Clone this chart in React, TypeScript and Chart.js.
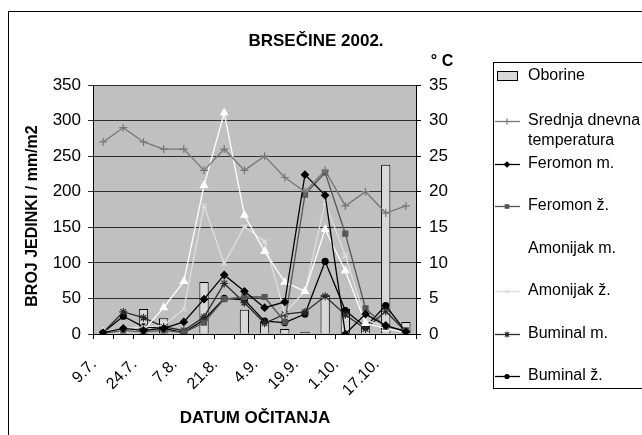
import React, { useEffect, useRef } from 'react';
import { Chart, registerables } from 'chart.js';
import { drawPoint } from 'chart.js/helpers';

Chart.register(...registerables);

const chartTitle = 'BRSEČINE 2002.';
const yTitle = 'BROJ JEDINKI / mm/m2';
const y1Title = '° C';
const xTitle = 'DATUM OČITANJA';

const categories = ['9.7.', '', '24.7.', '', '7.8.', '', '21.8.', '', '4.9.', '', '19.9.', '', '1.10.', '', '17.10.', ''];
const oborine = [0, 0, 35, 22, 0, 73, 0, 34, 18, 7, 3, 55, 35, 12, 238, 17];
const temperatura = [27, 29, 27, 26, 26, 23, 26, 23, 25, 22, 20, 23, 18, 20, 17, 18];
const feromonM = [2, 8, 5, 8, 17, 49, 83, 60, 37, 45, 224, 195, 0, 28, 12, 3];
const feromonZ = [1, 5, 3, 5, 2, 16, 49, 52, 52, 17, 196, 227, 141, 36, 10, 5];
const amonijakM = [3, 5, 5, 37, 74, 209, 311, 167, 116, 73, 60, 147, 89, 15, 8, 2];
const amonijakZ = [3, 8, 10, 12, 35, 180, 99, 151, 130, 30, 60, 185, 110, 20, 10, 3];
const buminalM = [2, 31, 23, 10, 5, 24, 71, 44, 15, 28, 31, 53, 27, 7, 32, 3];
const buminalZ = [2, 25, 10, 8, 2, 20, 50, 48, 18, 16, 28, 102, 33, 10, 40, 3];

const leftTicksMax = 350;
const rightTicksMax = 35;

const FONT = '"Liberation Sans", Arial, sans-serif';

function lineDs(label: string, data: number[], color: string, pointStyle: string, radius: number, yAxisID = 'y') {
  return {
    type: 'line' as const,
    label,
    data,
    yAxisID,
    borderColor: color,
    backgroundColor: color,
    pointBackgroundColor: color,
    pointBorderColor: color,
    pointStyle,
    pointRadius: radius,
    pointBorderWidth: 1.2,
    borderWidth: 1.3,
    tension: 0,
    fill: false,
    order: 1,
  };
}

const legendYs = [76, 121, 164, 206, 249, 291, 334, 376];

const decorPlugin = {
  id: 'decor',
  beforeDraw(chart: any) {
    const { ctx, chartArea: a } = chart;
    ctx.save();
    ctx.fillStyle = '#ffffff';
    ctx.fillRect(0, 0, chart.width, chart.height);
    ctx.fillStyle = '#c0c0c0';
    ctx.fillRect(a.left, a.top, a.right - a.left, a.bottom - a.top);
    ctx.restore();
  },
  afterDraw(chart: any) {
    const { ctx } = chart;
    ctx.save();
    ctx.strokeStyle = '#000';
    ctx.lineWidth = 1;
    ctx.strokeRect(8.5, 11.5, 800, 600);
    ctx.strokeRect(493.5, 62.5, 300, 326);

    ctx.fillStyle = '#000';
    ctx.textBaseline = 'middle';
    ctx.textAlign = 'center';
    ctx.font = `bold 17px ${FONT}`;
    ctx.fillText(chartTitle, 316, 41);
    ctx.font = `bold 16px ${FONT}`;
    ctx.fillText(y1Title, 442, 62);
    ctx.font = `bold 17px ${FONT}`;
    ctx.fillText(xTitle, 255, 418);
    ctx.save();
    ctx.translate(33, 216);
    ctx.rotate(-Math.PI / 2);
    ctx.font = `bold 16px ${FONT}`;
    ctx.fillText(yTitle, 0, 0);
    ctx.restore();

    // legend
    ctx.font = `16px ${FONT}`;
    ctx.textAlign = 'left';
    chart.data.datasets.forEach((ds: any, i: number) => {
      const y = legendYs[i];
      const lines = String(ds.label).split('\n');
      if (ds.type === 'bar') {
        ctx.fillStyle = ds.backgroundColor;
        ctx.fillRect(497, y - 5, 20, 9);
        ctx.strokeStyle = '#000';
        ctx.strokeRect(497.5, y - 4.5, 20, 9);
      } else {
        ctx.strokeStyle = ds.borderColor;
        ctx.lineWidth = 1.3;
        ctx.beginPath();
        ctx.moveTo(495, y + 0.5);
        ctx.lineTo(520, y + 0.5);
        ctx.stroke();
        ctx.fillStyle = ds.pointBackgroundColor;
        ctx.strokeStyle = ds.pointBorderColor;
        ctx.lineWidth = 1.2;
        drawPoint(ctx, { pointStyle: ds.pointStyle, radius: ds.pointRadius - 1, rotation: 0, borderWidth: 1.2 } as any, 507, y + 0.5);
      }
      ctx.fillStyle = '#000';
      lines.forEach((t, k) => ctx.fillText(t, 528, y + k * 20));
    });
    ctx.restore();
  },
};

export default function App() {
  const ref = useRef<HTMLCanvasElement | null>(null);
  useEffect(() => {
    if (!ref.current) return;
    const chart = new Chart(ref.current, {
      data: {
        labels: categories,
        datasets: [
          {
            type: 'bar',
            label: 'Oborine',
            data: oborine,
            yAxisID: 'y',
            backgroundColor: '#d8d8d8',
            borderColor: '#000',
            borderWidth: 1,
            barPercentage: 0.46,
            categoryPercentage: 1,
            order: 2,
          } as any,
          lineDs('Srednja dnevna\ntemperatura', temperatura, '#767676', 'cross', 4, 'y1'),
          lineDs('Feromon m.', feromonM, '#000000', 'rectRot', 3.5),
          lineDs('Feromon ž.', feromonZ, '#555555', 'rect', 3.5),
          lineDs('Amonijak m.', amonijakM, '#ffffff', 'triangle', 4),
          lineDs('Amonijak ž.', amonijakZ, '#dedede', 'crossRot', 3.5),
          lineDs('Buminal m.', buminalM, '#2a2a2a', 'star', 4),
          lineDs('Buminal ž.', buminalZ, '#000000', 'circle', 3),
        ] as any,
      },
      options: {
        animation: false,
        responsive: false,
        layout: { padding: { left: 0, right: 176, top: 85, bottom: 11 } },
        plugins: { legend: { display: false }, tooltip: { enabled: false }, title: { display: false } },
        scales: {
          x: {
            type: 'category',
            offset: true,
            grid: { display: true, drawOnChartArea: false, drawTicks: true, tickLength: 5, color: '#000', offset: true },
            border: { color: '#000' },
            ticks: { autoSkip: false, minRotation: 45, maxRotation: 45, color: '#000', font: { family: FONT, size: 16 }, padding: 16, labelOffset: -9 },
            afterFit: (s: any) => { s.height = 90; },
          },
          y: {
            position: 'left',
            min: 0,
            max: leftTicksMax,
            ticks: { stepSize: 50, color: '#000', font: { family: FONT, size: 17 }, padding: 7 },
            grid: { color: '#303030', tickLength: 5, lineWidth: 1 },
            border: { color: '#000' },
            afterFit: (s: any) => { s.width = 93; },
          },
          y1: {
            position: 'right',
            min: 0,
            max: rightTicksMax,
            ticks: { stepSize: 5, color: '#000', font: { family: FONT, size: 17 }, padding: 8 },
            grid: { drawOnChartArea: false, color: '#000', tickLength: 5 },
            border: { color: '#000' },
            afterFit: (s: any) => { s.width = 50; },
          },
        },
      } as any,
      plugins: [decorPlugin],
    });
    return () => chart.destroy();
  }, []);
  return (
    <div style={{ position: 'absolute', left: 0, top: 0, width: 642, height: 435 }}>
      <canvas ref={ref} width={642} height={435} style={{ display: 'block' }} />
    </div>
  );
}
